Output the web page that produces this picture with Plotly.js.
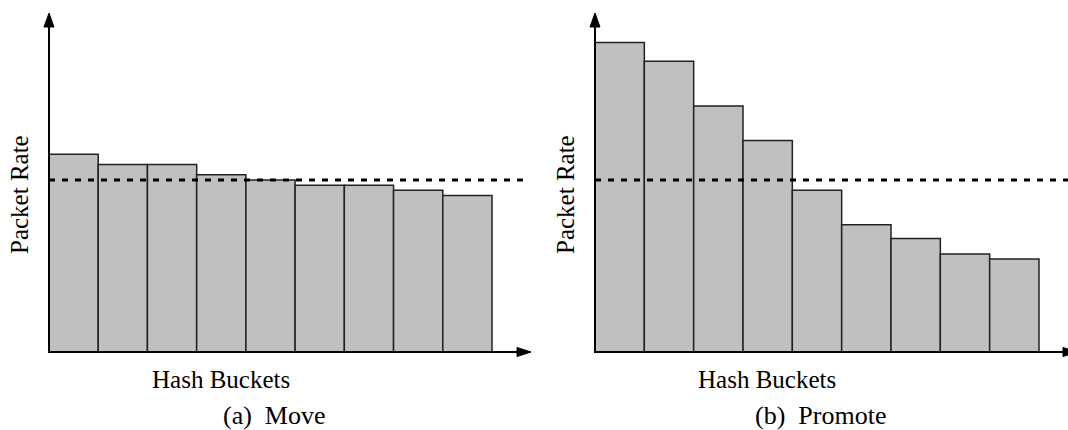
<!DOCTYPE html>
<html>
<head>
<meta charset="utf-8">
<script src="https://cdn.plot.ly/plotly-3.0.1.min.js"></script>
<style>html,body{margin:0;padding:0;background:#fff;}#chart{width:1068px;height:430px;}</style>
</head>
<body>
<div id="chart"></div>
<script>
// ---- data (relative packet rate per hash bucket; 1.0 = threshold/average) ----
const buckets = [1, 2, 3, 4, 5, 6, 7, 8, 9];
const moveRates = [1.15, 1.09, 1.09, 1.03, 1.00, 0.97, 0.97, 0.94, 0.91];
const promoteRates = [1.80, 1.69, 1.43, 1.23, 0.94, 0.74, 0.66, 0.57, 0.54];
const threshold = [1.0];
const yLabel = "Packet Rate";
const xLabel = "Hash Buckets";
const captions = ["(a)\u00a0\u00a0Move", "(b)\u00a0\u00a0Promote"];

// ---- layout helpers (pixel -> paper) ----
const W = 1068, H = 430;
const X = p => p / W;
const Y = p => 1 - p / H;

const baseY = 352, topTip = 13;
const panels = [
  {axisX: 49, barEnd: 492, plotEnd: 531, arrowBase: 517},
  {axisX: 595, barEnd: 1039, plotEnd: 1068, arrowBase: 1063}
];
const yMax = (baseY - topTip) / 172;

const centers = buckets.map(b => b - 0.5);

function barTrace(vals, xa, ya) {
  return {
    type: 'bar', x: centers, y: vals, width: 1, xaxis: xa, yaxis: ya,
    marker: {color: '#c0c0c0', line: {color: '#222', width: 1.5}},
    hoverinfo: 'skip', showlegend: false
  };
}
function threshTrace(xmax, xa, ya) {
  return {
    type: 'scatter', mode: 'lines', x: [0, xmax], y: [threshold[0], threshold[0]],
    xaxis: xa, yaxis: ya, line: {color: '#000', width: 3.2, dash: '6px,7px'},
    hoverinfo: 'skip', showlegend: false
  };
}

const units = panels.map(p => (p.barEnd - p.axisX) / buckets.length);
const xr = panels.map((p, i) => (p.plotEnd - p.axisX) / units[i]);
const dashEnd = [(528 - panels[0].axisX) / units[0], xr[1]];

const data = [
  barTrace(moveRates, 'x', 'y'),
  threshTrace(dashEnd[0], 'x', 'y'),
  barTrace(promoteRates, 'x2', 'y2'),
  threshTrace(dashEnd[1], 'x2', 'y2')
];

const shapes = [];
const annotations = [];
const serif = "'Liberation Serif', 'Times New Roman', Times, serif";
const font = {family: serif, size: 25, color: '#000'};
panels.forEach((p, i) => {
  shapes.push({type: 'line', xref: 'paper', yref: 'paper', x0: X(p.axisX), x1: X(p.axisX), y0: Y(baseY + 1), y1: Y(26), line: {color: '#000', width: 2}});
  shapes.push({type: 'path', xref: 'paper', yref: 'paper', fillcolor: '#000', line: {color: '#000', width: 1},
    path: `M ${X(p.axisX - 5)} ${Y(27)} L ${X(p.axisX)} ${Y(topTip)} L ${X(p.axisX + 5)} ${Y(27)} Z`});
  shapes.push({type: 'line', xref: 'paper', yref: 'paper', x0: X(p.axisX - 1), x1: X(p.arrowBase + 1), y0: Y(baseY), y1: Y(baseY), line: {color: '#000', width: 2}});
  shapes.push({type: 'path', xref: 'paper', yref: 'paper', fillcolor: '#000', line: {color: '#000', width: 1},
    path: `M ${X(p.arrowBase)} ${Y(baseY - 4.5)} L ${X(p.arrowBase + 14)} ${Y(baseY)} L ${X(p.arrowBase)} ${Y(baseY + 4.5)} Z`});

  annotations.push({xref: 'paper', yref: 'paper', x: X(p.axisX - 29), y: Y(195), text: yLabel, textangle: -90,
    showarrow: false, font: font, xanchor: 'center', yanchor: 'middle'});
  annotations.push({xref: 'paper', yref: 'paper', x: X(p.axisX + 172), y: Y(379), text: xLabel,
    showarrow: false, font: font, xanchor: 'center', yanchor: 'middle'});
  annotations.push({xref: 'paper', yref: 'paper', x: X(p.axisX + 225), y: Y(415), text: captions[i],
    showarrow: false, font: {family: serif, size: 26, color: '#000'}, xanchor: 'center', yanchor: 'middle'});
});

const axisCommon = {showgrid: false, zeroline: false, showline: false, showticklabels: false, ticks: '', fixedrange: true};
const layout = {
  width: W, height: H,
  margin: {l: 0, r: 0, t: 0, b: 0, pad: 0},
  paper_bgcolor: '#fff', plot_bgcolor: 'rgba(0,0,0,0)',
  showlegend: false, bargap: 0,
  xaxis: Object.assign({}, axisCommon, {domain: [X(panels[0].axisX), X(panels[0].plotEnd)], range: [0, xr[0]], anchor: 'y'}),
  yaxis: Object.assign({}, axisCommon, {domain: [Y(baseY), Y(topTip)], range: [0, yMax], anchor: 'x'}),
  xaxis2: Object.assign({}, axisCommon, {domain: [X(panels[1].axisX), 1], range: [0, xr[1]], anchor: 'y2'}),
  yaxis2: Object.assign({}, axisCommon, {domain: [Y(baseY), Y(topTip)], range: [0, yMax], anchor: 'x2'}),
  shapes: shapes,
  annotations: annotations
};

Plotly.newPlot('chart', data, layout, {displayModeBar: false, staticPlot: true});
</script>
</body>
</html>
